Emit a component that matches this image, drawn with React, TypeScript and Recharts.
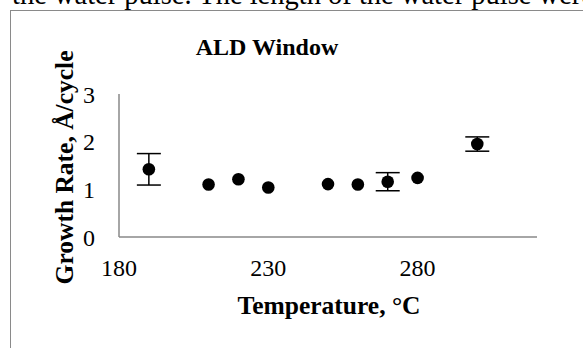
import React from "react";
import { ScatterChart, Scatter, XAxis, YAxis, ErrorBar, Label } from "recharts";

const temperatures = [190, 210, 220, 230, 250, 260, 270, 280, 300];
const growthRates = [1.42, 1.1, 1.21, 1.04, 1.11, 1.1, 1.16, 1.24, 1.95];
const errors = [0.33, 0, 0, 0, 0, 0, 0.19, 0, 0.15];
const xTicks = [180, 230, 280];
const yTicks = [0, 1, 2, 3];

const data = temperatures.map((t, i) => ({ t, g: growthRates[i], e: errors[i] }));

const FONT = "'Liberation Serif', 'DejaVu Serif', serif";
const AXIS = "#898989";

const Dot = (props: any) => {
  const { cx, cy } = props;
  if (cx == null || cy == null) return null;
  return <circle cx={cx} cy={cy} r={6.3} fill="#000" />;
};

const tickStyle = { fill: "#000", fontSize: 24, fontFamily: FONT, style: { fontFamily: FONT } } as any;

export default function App() {
  return (
    <div style={{ position: "absolute", left: 0, top: 0, width: 583, height: 348, overflow: "hidden", background: "#fff", fontFamily: FONT }}>
      <div
        style={{
          position: "absolute",
          left: 12,
          top: -19.5,
          fontFamily: FONT,
          fontSize: 28.5,
          lineHeight: 1,
          whiteSpace: "nowrap",
          color: "#000",
        }}
      >
        the water pulse. The length of the water pulse were
      </div>
      <div
        style={{
          position: "absolute",
          left: 10,
          top: 10,
          width: 700,
          height: 500,
          border: "1.5px solid #8a8a8a",
        }}
      />
      <div style={{ position: "absolute", left: 0, top: 0, fontFamily: FONT }}>
        <ScatterChart width={583} height={348} margin={{ top: 94, right: 46, left: 0, bottom: 0 }} style={{ fontFamily: FONT }}>
          <XAxis
            type="number"
            dataKey="t"
            domain={[180, 320]}
            ticks={xTicks}
            height={111}
            tickLine={false}
            tickSize={0}
            tickMargin={22}
            axisLine={{ stroke: AXIS, strokeWidth: 1.5 }}
            tick={tickStyle}
          >
            <Label
              content={() => (
                <text x={329} y={314} textAnchor="middle" style={{ fontFamily: FONT, fontSize: 25.5, fontWeight: "bold" }} fill="#000">
                  Temperature, °C
                </text>
              )}
            />
          </XAxis>
          <YAxis
            type="number"
            dataKey="g"
            domain={[0, 3]}
            ticks={yTicks}
            width={119}
            tickLine={false}
            tickSize={0}
            tickMargin={24}
            axisLine={{ stroke: AXIS, strokeWidth: 1.5 }}
            tick={tickStyle}
          >
            <Label
              content={() => (
                <text
                  x={73}
                  y={167.5}
                  transform="rotate(-90, 73, 167.5)"
                  textAnchor="middle"
                  style={{ fontFamily: FONT, fontSize: 25.5, fontWeight: "bold" }}
                  fill="#000"
                >
                  Growth Rate, Å/cycle
                </text>
              )}
            />
          </YAxis>
          <Scatter data={data} shape={<Dot />} isAnimationActive={false}>
            <ErrorBar dataKey="e" direction="y" width={12} stroke="#000" strokeWidth={1.5} />
          </Scatter>
          <text x={267} y={55} textAnchor="middle" style={{ fontFamily: FONT, fontSize: 24, fontWeight: "bold" }} fill="#000">
            ALD Window
          </text>
        </ScatterChart>
      </div>
    </div>
  );
}
